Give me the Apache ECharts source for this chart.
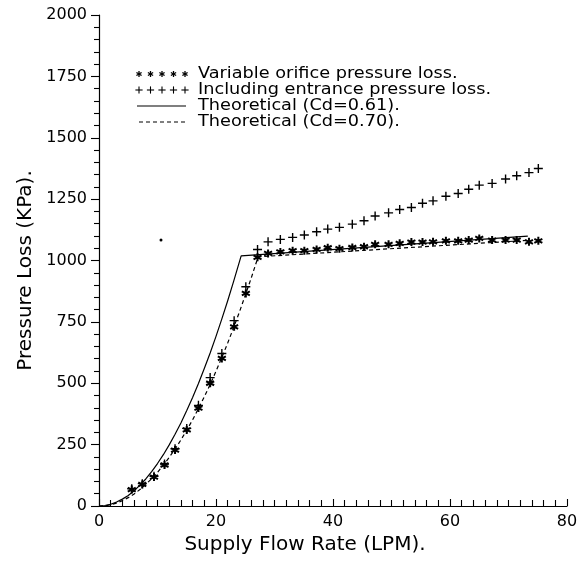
<!DOCTYPE html>
<html>
<head>
<meta charset="utf-8">
<script src="https://cdn.jsdelivr.net/npm/echarts@6/dist/echarts.min.js"></script>
<style>
  html, body { margin: 0; padding: 0; background: #fff; }
  #chart { width: 584px; height: 561px; }
</style>
</head>
<body>
<div id="chart"></div>
<script>
// Measured supply flow rates (LPM)
const flowRate = [5.6, 7.4, 9.4, 11.2, 13.0, 15.0, 17.0, 19.0, 21.0, 23.1,
  25.1, 27.1, 28.9, 31.0, 33.1, 35.1, 37.2, 39.1, 41.1, 43.3,
  45.3, 47.2, 49.5, 51.4, 53.4, 55.3, 57.1, 59.3, 61.4, 63.2,
  65.0, 67.2, 69.5, 71.4, 73.5, 75.1];

// Variable orifice pressure loss (KPa)
const orificeLoss = [67, 88, 118, 167, 228, 310, 399, 500, 601, 730,
  866, 1013, 1029, 1035, 1040, 1040, 1045, 1052, 1048, 1053,
  1056, 1066, 1066, 1070, 1075, 1075, 1076, 1080, 1080, 1083,
  1090, 1083, 1083, 1083, 1076, 1080];

// Including entrance pressure loss (KPa)
const totalLoss = [70, 91, 121, 171, 233, 316, 410, 523, 621, 755,
  893, 1045, 1076, 1086, 1094, 1104, 1117, 1128, 1135, 1148,
  1162, 1181, 1194, 1208, 1216, 1233, 1243, 1262, 1273, 1290,
  1307, 1314, 1332, 1345, 1358, 1375];

// Theoretical curve, Cd = 0.61
const theo61Flow = [0, 1, 2, 3, 4, 5, 6, 7, 8, 9, 10, 11, 12, 13, 14, 15, 16, 17, 18, 19, 20, 21, 22, 23, 24.3, 73.3];
const theo61Loss = [0, 2, 7, 16, 28, 43, 62, 85, 110, 140, 173, 209, 249, 292, 338, 389, 442, 499, 560, 623, 691, 762, 836, 914, 1019, 1099];

// Theoretical curve, Cd = 0.70
const theo70Flow = [0, 1, 2, 3, 4, 5, 6, 7, 8, 9, 10, 11, 12, 13, 14, 15, 16, 17, 18, 19, 20, 21, 22, 23, 24, 25, 26, 27.2, 73.2];
const theo70Loss = [0, 1, 5, 12, 22, 34, 49, 67, 88, 111, 137, 166, 198, 232, 269, 309, 351, 397, 445, 495, 549, 605, 664, 726, 790, 858, 927, 1015, 1082];

// Isolated dot in the upper left of the plot
const loneDot = [[10.6, 1083]];

// Axis ticks
const xTicks = [0, 20, 40, 60, 80];
const yTicks = [0, 250, 500, 750, 1000, 1250, 1500, 1750, 2000];

// Legend entries
const legendLabels = [
  'Variable orifice pressure loss.',
  'Including entrance pressure loss.',
  'Theoretical (Cd=0.61).',
  'Theoretical (Cd=0.70).'
];

const pair = (xs, ys) => xs.map((x, i) => [x, ys[i]]);

const FONT = 'DejaVu Sans';
const INK = '#000';

const starPath = 'path://M0,-10L0,10M-8.66,-5L8.66,5M-8.66,5L8.66,-5';
const plusPath = 'path://M0,-10L0,10M-10,0L10,0';

// Legend glyphs built from short strokes
function starStrokes(cx, cy, r) {
  const out = [];
  [90, 30, 150].forEach(a => {
    const rad = a * Math.PI / 180;
    const dx = r * Math.cos(rad), dy = r * Math.sin(rad);
    out.push({ type: 'line', shape: { x1: cx - dx, y1: cy - dy, x2: cx + dx, y2: cy + dy },
      style: { stroke: INK, lineWidth: 1.3 }, silent: true });
  });
  return out;
}
function plusStrokes(cx, cy, r) {
  return [
    { type: 'line', shape: { x1: cx - r, y1: cy, x2: cx + r, y2: cy }, style: { stroke: INK, lineWidth: 1.1 }, silent: true },
    { type: 'line', shape: { x1: cx, y1: cy - r, x2: cx, y2: cy + r }, style: { stroke: INK, lineWidth: 1.1 }, silent: true }
  ];
}

const rowY = [74, 90, 106, 122];
const graphics = [];
for (let i = 0; i < 5; i++) {
  graphics.push(...starStrokes(139 + i * 11.5, rowY[0], 3));
  graphics.push(...plusStrokes(139 + i * 11.5, rowY[1], 3.6));
}
graphics.push({ type: 'line', shape: { x1: 137, y1: rowY[2], x2: 186, y2: rowY[2] },
  style: { stroke: INK, lineWidth: 1.1 }, silent: true });
graphics.push({ type: 'line', shape: { x1: 139, y1: rowY[3], x2: 186, y2: rowY[3] },
  style: { stroke: INK, lineWidth: 1.1, lineDash: [4, 3] }, silent: true });
legendLabels.forEach((t, i) => {
  graphics.push({ type: 'text', x: 198, y: rowY[i], scaleX: 1.18, silent: true,
    style: { text: t, fill: INK, font: '15px "' + FONT + '"', textVerticalAlign: 'middle', textAlign: 'left' } });
});

const chart = echarts.init(document.getElementById('chart'), null, { renderer: 'canvas' });
chart.setOption({
  animation: false,
  backgroundColor: '#fff',
  grid: { left: 99, right: 17, top: 15, bottom: 55, containLabel: false },
  xAxis: {
    type: 'value', min: xTicks[0], max: xTicks[xTicks.length - 1], interval: 20,
    name: 'Supply Flow Rate (LPM).', nameLocation: 'middle', nameGap: 22,
    nameTextStyle: { fontFamily: FONT, fontSize: 20, color: INK, padding: [0, 56, 0, 0] },
    axisLine: { show: true, lineStyle: { color: INK, width: 1.2 } },
    axisTick: { show: true, inside: true, length: 7, lineStyle: { color: INK, width: 1.1 } },
    minorTick: { show: true, splitNumber: 10, length: 6, lineStyle: { color: INK, width: 1.1 } },
    axisLabel: { fontFamily: FONT, fontSize: 16, color: INK, margin: 8, formatter: v => String(v) },
    splitLine: { show: false }
  },
  yAxis: {
    type: 'value', min: yTicks[0], max: yTicks[yTicks.length - 1], interval: 250,
    name: 'Pressure Loss (KPa).', nameLocation: 'middle', nameGap: 50,
    nameTextStyle: { fontFamily: FONT, fontSize: 20, color: INK, padding: [0, 20, 0, 0] },
    axisLine: { show: true, lineStyle: { color: INK, width: 1.2 } },
    axisTick: { show: true, inside: false, length: 8, lineStyle: { color: INK, width: 1.1 } },
    minorTick: { show: true, splitNumber: 5, length: 5, lineStyle: { color: INK, width: 1.1 } },
    axisLabel: { fontFamily: FONT, fontSize: 16, color: INK, margin: 12, formatter: v => String(v) },
    splitLine: { show: false }
  },
  graphic: graphics,
  series: [
    {
      name: 'Theoretical (Cd=0.61).', type: 'line', data: pair(theo61Flow, theo61Loss),
      showSymbol: false, lineStyle: { color: INK, width: 1.2 }, silent: true, z: 2
    },
    {
      name: 'Theoretical (Cd=0.70).', type: 'line', data: pair(theo70Flow, theo70Loss),
      showSymbol: false, lineStyle: { color: INK, width: 1.2, type: [4, 3] }, silent: true, z: 2
    },
    {
      name: 'Including entrance pressure loss.', type: 'scatter', data: pair(flowRate, totalLoss),
      symbol: plusPath, symbolSize: 9,
      itemStyle: { color: 'rgba(0,0,0,0)', borderColor: INK, borderWidth: 1.4, opacity: 1 }, silent: true, z: 3
    },
    {
      name: 'Variable orifice pressure loss.', type: 'scatter', data: pair(flowRate, orificeLoss),
      symbol: starPath, symbolSize: 8,
      itemStyle: { color: 'rgba(0,0,0,0)', borderColor: INK, borderWidth: 2, opacity: 1 }, silent: true, z: 4
    },
    {
      type: 'scatter', data: loneDot, symbol: 'circle', symbolSize: 3,
      itemStyle: { color: INK, opacity: 1 }, silent: true, z: 4
    }
  ]
});
</script>
</body>
</html>
